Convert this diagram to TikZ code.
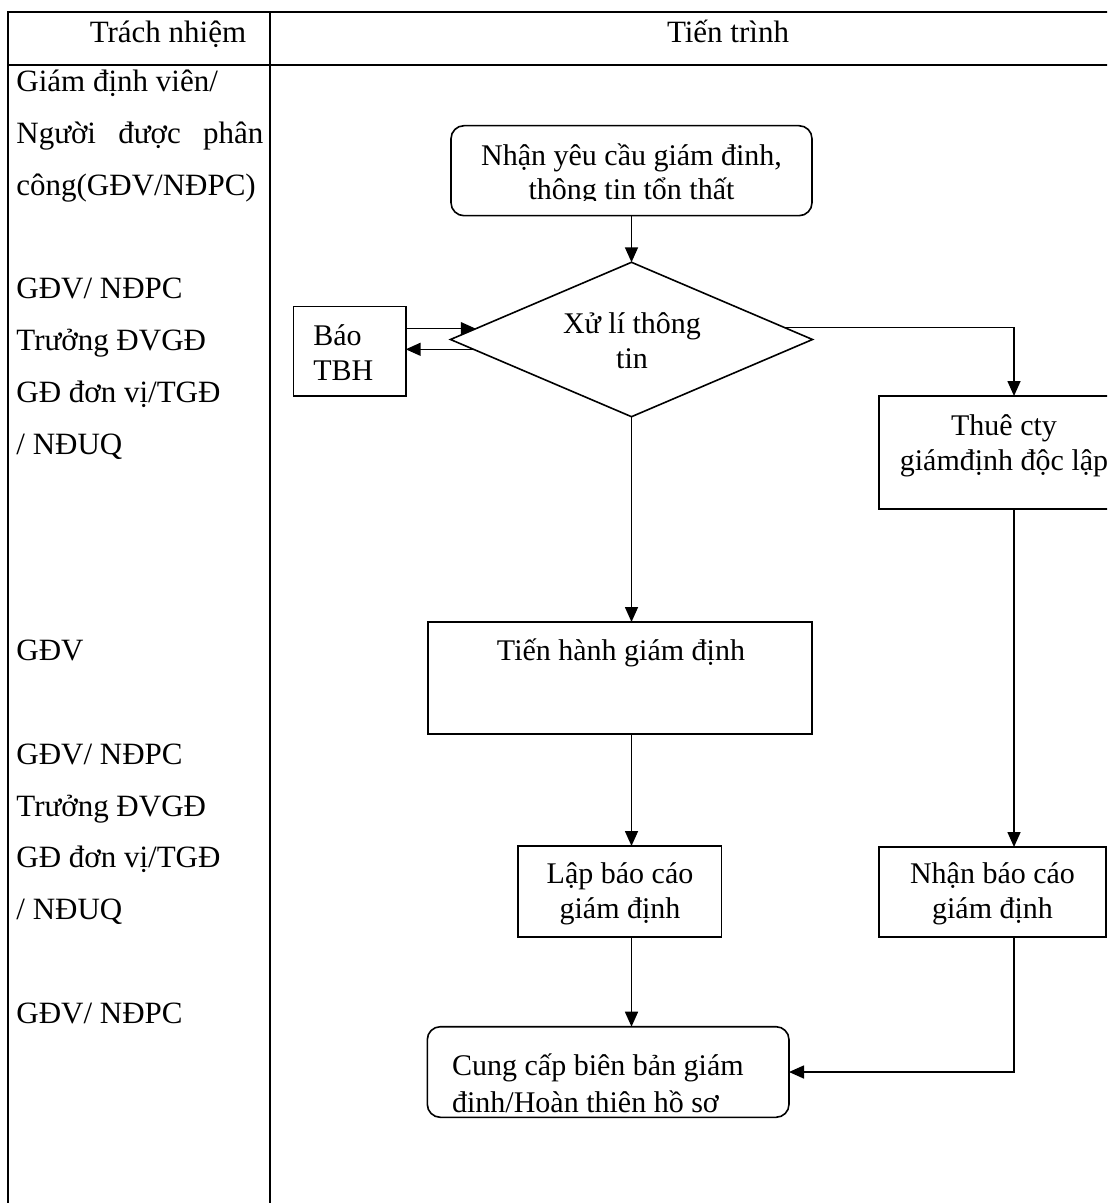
\documentclass[tikz,border=0pt]{standalone}
\usepackage{fontspec}
\setmainfont{Liberation Serif}
\usetikzlibrary{shapes.geometric,arrows.meta,calc}
\newcommand\boxfont{\fontsize{15}{18}\selectfont}
\newcommand\tabfont{\fontsize{15.5}{18}\selectfont}
\tikzset{
  outer/.style={line width=0.9pt},
  inner/.style={line width=0.6pt},
  stepbox/.style={draw, line width=0.8pt, inner sep=0pt, outer sep=0pt},
  roundbox/.style={stepbox, rounded corners=6.5pt},
  decision/.style={draw, diamond, line width=0.8pt, inner sep=0pt, outer sep=0pt},
  arr/.style={line width=0.8pt, -{Triangle[length=7.5pt,width=6.5pt]}},
  btxt/.style={inner sep=0pt, font=\boxfont},
  ttxt/.style={inner sep=0pt, font=\tabfont, anchor=base west},
}
\begin{document}
\begin{tikzpicture}[x=0.5pt,y=-0.5pt]
\useasboundingbox (0,0) rectangle (1107,1203);
\clip (0,0) rectangle (1107,1203);
\fill[white] (0,0) rectangle (1107,1203);
% table
\coordinate (tl) at (8,12);
\coordinate (tr) at (1120,12);
\coordinate (bl) at (8,1210);
\coordinate (dt) at (270,12);
\coordinate (db) at (270,1210);
\coordinate (hl) at (8,65);
\coordinate (hr) at (1120,65);
\draw[outer] (tr) -- (tl) -- (bl);
\draw[outer] (dt) -- (db);
\draw[inner] (hl) -- (hr);
\node[inner sep=0pt, font=\tabfont, anchor=base] (h1) at (168,43) {Trách nhiệm};
\node[inner sep=0pt, font=\tabfont, anchor=base] (h2) at (728,43) {Tiến trình};
% left column (line pitch 51.72px)
\node[ttxt] (l1) at (16,92) {Giám định viên/};
\node[ttxt] (l2) at (16,143.7) {\hbox to 123.5pt{Người\hfill được\hfill phân}};
\node[ttxt] (l3) at (16,195.4) {công(GĐV/NĐPC)};
\node[ttxt] (l4) at (16,298.9) {GĐV/ NĐPC};
\node[ttxt] (l5) at (16,350.6) {Trưởng ĐVGĐ};
\node[ttxt] (l6) at (16,402.3) {GĐ đơn vị/TGĐ};
\node[ttxt] (l7) at (16,454) {/ NĐUQ};
\node[ttxt] (l8) at (16,660.9) {GĐV};
\node[ttxt] (l9) at (16,764.4) {GĐV/ NĐPC};
\node[ttxt] (l10) at (16,816.1) {Trưởng ĐVGĐ};
\node[ttxt] (l11) at (16,867.8) {GĐ đơn vị/TGĐ};
\node[ttxt] (l12) at (16,919.5) {/ NĐUQ};
\node[ttxt] (l13) at (16,1023) {GĐV/ NĐPC};
% shapes
\node[roundbox, minimum width=180.5pt, minimum height=45pt] (b1) at (631.5,170.7) {};
\node[decision, minimum width=181pt, minimum height=77.2pt] (d) at (631.5,339.5) {};
\node[stepbox, minimum width=56.2pt, minimum height=44.65pt] (bao) at (349.5,351.35) {};
\node[stepbox, minimum width=125pt, minimum height=56.5pt] (thue) at (1004,452.5) {};
\node[stepbox, minimum width=192pt, minimum height=56pt] (tien) at (620,678) {};
\node[stepbox, minimum width=101.8pt, minimum height=45.35pt] (lap) at (619.5,891.35) {};
\node[stepbox, minimum width=113.5pt, minimum height=45pt] (nhan) at (992.5,892) {};
\node[roundbox, minimum width=180.85pt, minimum height=45.3pt] (cung) at (608.15,1072) {};
% texts
\begin{scope}
\clip (451,125.7) rectangle (812,201);
\node[btxt, anchor=base] (t1a) at (631.5,166) {Nhận yêu cầu giám đinh,};
\node[btxt, anchor=base] (t1b) at (631.5,200) {thông tin tổn thất};
\end{scope}
\node[btxt, anchor=base] (tda) at (632,334) {Xử lí thông};
\node[btxt, anchor=base] (tdb) at (632,368) {tin};
\node[btxt, anchor=base west] (tba) at (313,345) {Báo};
\node[btxt, anchor=base west] (tbb) at (313,380) {TBH};
\node[btxt, anchor=base] (tta) at (1004,435) {Thuê cty};
\node[btxt, anchor=base] (ttb) at (1004,470) {giámđịnh độc lập};
\node[btxt, anchor=base] (tti) at (621,660) {Tiến hành giám định};
\node[btxt, anchor=base] (tla) at (620,883) {Lập báo cáo};
\node[btxt, anchor=base] (tlb) at (620,918) {giám định};
\node[btxt, anchor=base] (tna) at (992.5,883) {Nhận báo cáo};
\node[btxt, anchor=base] (tnb) at (992.5,918) {giám định};
\node[btxt, anchor=base west] (tca) at (451.7,1075) {Cung cấp biên bản giám};
\node[btxt, anchor=base west] (tcb) at (451.7,1112) {đinh/Hoàn thiên hồ sơ};
% connectors
\coordinate (rcol) at (1014,0);
\coordinate (ua) at ($(d.west)!0.14!(d.north)$);
\coordinate (la) at ($(d.west)!0.127!(d.south)$);
\coordinate (re) at ($(d.east)!0.158!(d.north)$);
\draw[arr] (b1.south) -- (d.north);
\draw[arr] (bao.east |- ua) -- (ua);
\draw[arr] (la) -- (bao.east |- la);
\draw[arr] (re) -| (rcol |- thue.north);
\draw[arr] (d.south) -- (d.south |- tien.north);
\draw[arr] (tien.south -| d.south) -- (lap.north -| d.south);
\draw[arr] (lap.south -| d.south) -- (cung.north -| d.south);
\draw[arr] (thue.south -| rcol) -- (nhan.north -| rcol);
\draw[arr] (nhan.south -| rcol) |- (cung.east);
\end{tikzpicture}
\end{document}
